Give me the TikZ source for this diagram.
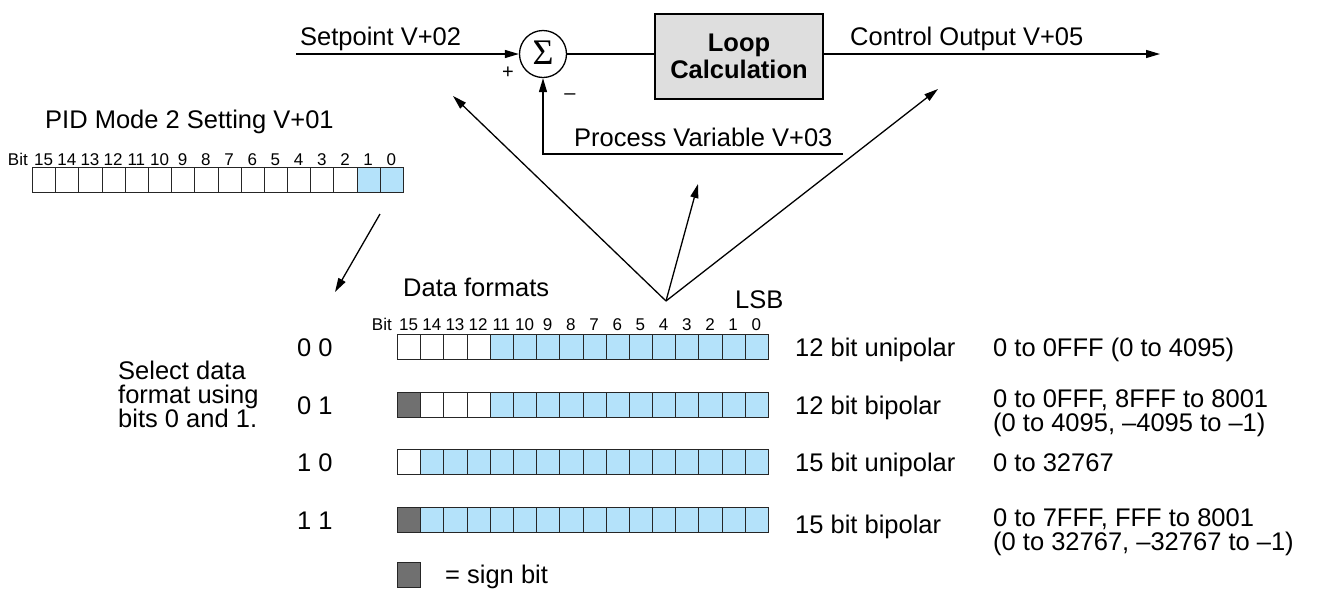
\documentclass[tikz,border=0pt]{standalone}
\usepackage{fontspec}
\setmainfont{Liberation Sans}
\newfontfamily\sigmafont{Liberation Serif}
\usetikzlibrary{arrows.meta}
\definecolor{bitblue}{RGB}{180,226,250}
\definecolor{signgray}{RGB}{112,112,112}
\definecolor{boxgray}{RGB}{222,222,222}
\begin{document}
\begin{tikzpicture}[x=1pt,y=-1pt,
  txt/.style={font=\fontsize{25.5}{29}\selectfont, inner sep=0, anchor=base west},
  small/.style={font=\fontsize{17}{19}\selectfont, inner sep=0, anchor=base},
  ln/.style={line width=1.3},
  arr/.style={line width=1.3, -{Triangle[length=14,width=8]}},
  cell/.style={draw=black!85, line width=1.0, minimum width=23.1875, minimum height=24.5, inner sep=0, anchor=north west}]
\useasboundingbox (0,0) rectangle (1318,590);

% ---- control loop ----
\coordinate (spin) at (296,54);
\node[draw, circle, line width=1.3, minimum size=47, inner sep=0] (sum) at (543,54) {};
\node[inner sep=0, font=\sigmafont\fontsize{36}{38}\selectfont] (sigma) at (543,53) {Σ};
\node[draw, line width=1.3, fill=boxgray, minimum width=168, minimum height=85, inner sep=0, align=center,
      font=\fontsize{25.5}{27}\selectfont\bfseries] (loop) at (739,56.5) {Loop\\Calculation};
\coordinate (out) at (1160,54);
\coordinate (pvin) at (843,154);
\draw[arr] (spin) -- (sum.west);
\draw[ln] (sum.east) -- (sum.east -| loop.west);
\draw[arr] (loop.east |- out) -- (out);
\draw[arr] (pvin) -- (pvin -| sum.south) -- (sum.south);
\node[txt] (tsp) at (300,45) {Setpoint V+02};
\node[txt] (tco) at (850,45) {Control Output V+05};
\node[txt] (tpv) at (574,146) {Process Variable V+03};
\node[font=\fontsize{20}{22}\selectfont, inner sep=0] (plus) at (508,73) {+};
\node[font=\fontsize{20}{22}\selectfont, inner sep=0] (minus) at (570,97) {\char"2013};

% ---- arrows from data formats ----
\coordinate (apex) at (666,301);
\coordinate (tipL) at (453,96);
\coordinate (tipM) at (698,184);
\coordinate (tipR) at (938,89);
\draw[arr] (apex) -- (tipL);
\draw[arr] (apex) -- (tipM);
\draw[arr] (apex) -- (tipR);

% ---- PID mode register ----
\node[txt] (tpid) at (45,128) {PID Mode 2 Setting V+01};
\node[small, anchor=base east] (tbit0) at (28,165) {Bit};
\foreach \k in {0,...,15}{
  \pgfmathtruncatemacro{\b}{15-\k}
  \ifnum\k>13 \def\fc{bitblue}\else\def\fc{white}\fi
  \node[cell, fill=\fc] (m-\k) at ({32+23.1875*\k},167) {};
  \node[small] (ml-\k) at ({32+23.1875*(\k+0.5)},165) {\b};
}
\coordinate (selA) at (380,214);
\coordinate (selB) at (335,292);
\draw[arr] (selA) -- (selB);

% ---- data formats ----
\node[txt] (tdf) at (403,296) {Data formats};
\node[txt] (tlsb) at (735,308) {LSB};
\node[small, anchor=base east] (tbit1) at (392,330) {Bit};
\foreach \k in {0,...,15}{
  \pgfmathtruncatemacro{\b}{15-\k}
  \node[small] (fl-\k) at ({397+23.1875*(\k+0.5)},330) {\b};
}
\foreach \row/\y/\nw/\sg in {1/334/4/0, 2/392/4/1, 3/449/1/0, 4/507/1/1}{
  \foreach \k in {0,...,15}{
    \ifnum\k<\nw \def\fc{white}\else\def\fc{bitblue}\fi
    \ifnum\k=0 \ifnum\sg=1 \def\fc{signgray}\fi\fi
    \node[cell, fill=\fc] (f\row-\k) at ({397+23.1875*\k},\y) {};
  }
}
\node[txt] (c1) at (297,356) {0 0};
\node[txt] (c2) at (297,414) {0 1};
\node[txt] (c3) at (297,471) {1 0};
\node[txt] (c4) at (297,529) {1 1};
\node[txt, anchor=north west, align=left, font=\fontsize{25.5}{23.5}\selectfont] (sel) at (118,361) {Select data\\format using\\bits 0 and 1.};

\node[txt] (n1) at (795,356) {12 bit unipolar};
\node[txt] (n2) at (795,414) {12 bit bipolar};
\node[txt] (n3) at (795,471) {15 bit unipolar};
\node[txt] (n4) at (795,533) {15 bit bipolar};
\node[txt] (r1) at (993,356) {0 to 0FFF (0 to 4095)};
\node[txt] (r2a) at (993,407) {0 to 0FFF, 8FFF to 8001};
\node[txt] (r2b) at (993,431) {(0 to 4095, \char"2013 4095 to \char"2013 1)};
\node[txt] (r3) at (993,471) {0 to 32767};
\node[txt] (r4a) at (993,526) {0 to 7FFF, FFF to 8001};
\node[txt] (r4b) at (993,550) {(0 to 32767, \char"2013 32767 to \char"2013 1)};

% ---- legend ----
\node[cell, fill=signgray] (leg) at (397,562) {};
\node[txt] (tleg) at (445,583) {= sign bit};
\end{tikzpicture}
\end{document}
